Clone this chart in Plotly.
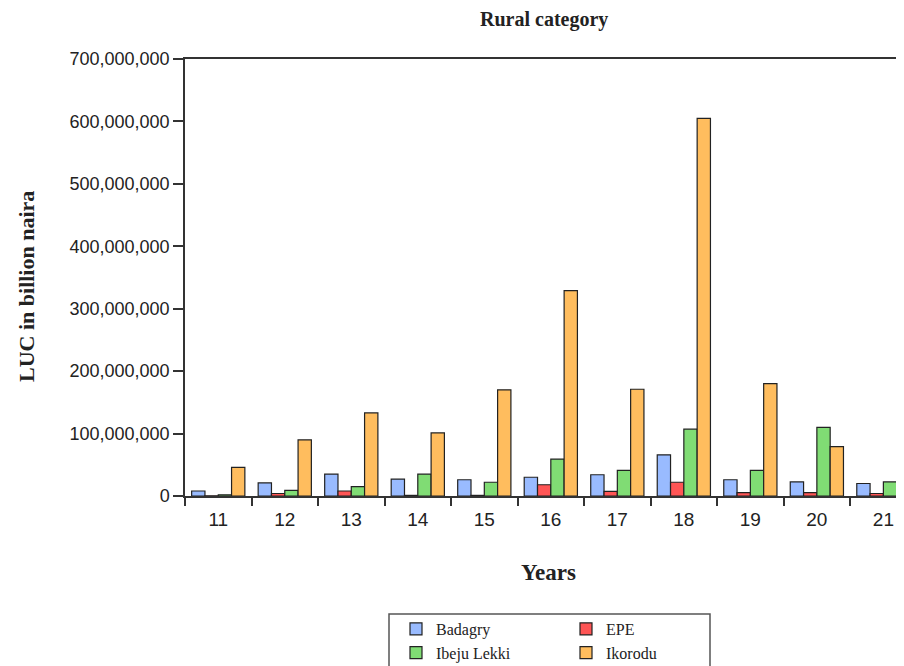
import plotly.graph_objects as go

years = ["11", "12", "13", "14", "15", "16", "17", "18", "19", "20", "21"]
badagry = [8e6, 21e6, 35e6, 27e6, 26e6, 30e6, 34e6, 66e6, 26e6, 22.5e6, 20e6]
epe = [0.3e6, 4e6, 8e6, 1e6, 1e6, 18e6, 7.5e6, 22e6, 5.5e6, 5.5e6, 4e6]
ibeju = [2e6, 9e6, 15e6, 35e6, 22e6, 59e6, 41e6, 107e6, 41e6, 110e6, 22.5e6]
ikorodu = [46e6, 90e6, 133e6, 101e6, 170e6, 329e6, 171e6, 605e6, 180e6, 79e6, 83e6]

series = [
    ("Badagry", badagry, "#99BBFF", "legend"),
    ("EPE", epe, "#FF5555", "legend2"),
    ("Ibeju Lekki", ibeju, "#80DC74", "legend"),
    ("Ikorodu", ikorodu, "#FFBD5E", "legend2"),
]

ytick_vals = [0, 100e6, 200e6, 300e6, 400e6, 500e6, 600e6, 700e6]
ytick_text = ["0", "100,000,000", "200,000,000", "300,000,000", "400,000,000",
              "500,000,000", "600,000,000", "700,000,000"]

fig = go.Figure()
for name, vals, color, lg in series:
    fig.add_trace(go.Bar(
        x=years, y=vals, name=name, legend=lg,
        marker=dict(color=color, line=dict(color="#222222", width=1.2)),
    ))

# page body has an 8px margin; figure coords = window coords - 8
OFF = 8
W, H = 896, 658
L, T = 185 - OFF, 59 - OFF
B = H - (496 - OFF)
R = 0
pw = W - L - R
ph = H - T - B

def px_x(p):
    return (p - OFF - L) / pw

def px_y(p):
    return (H - B - (p - OFF)) / ph

serif = "Liberation Serif, Times New Roman, serif"
sans = "Liberation Sans, Arial, sans-serif"

fig.update_layout(
    width=W, height=H,
    margin=dict(l=L, r=R, t=T, b=B, autoexpand=False),
    paper_bgcolor="white", plot_bgcolor="white",
    barmode="group", bargap=0.2, bargroupgap=0,
    showlegend=True,
    legend=dict(
        x=px_x(396), y=px_y(612), xanchor="left", yanchor="top",
        orientation="v", bgcolor="rgba(0,0,0,0)",
        font=dict(family=serif, size=16, color="#222222"),
        tracegroupgap=0, itemwidth=30,
    ),
    legend2=dict(
        x=px_x(566), y=px_y(612), xanchor="left", yanchor="top",
        orientation="v", bgcolor="rgba(0,0,0,0)",
        font=dict(family=serif, size=16, color="#222222"),
        tracegroupgap=0, itemwidth=30,
    ),
    xaxis=dict(
        type="category", range=[-0.5, 10.31],
        showline=True, linecolor="#333333", linewidth=1.5, mirror=True,
        ticks="outside", tickson="boundaries", ticklen=8, tickcolor="#333333",
        tickwidth=1.5, ticklabelstandoff=5,
        tickfont=dict(family=sans, size=19, color="#222222"),
        showgrid=False, zeroline=False,
    ),
    yaxis=dict(
        range=[0, 700e6],
        tickvals=ytick_vals, ticktext=ytick_text,
        showline=True, linecolor="#333333", linewidth=1.5,
        ticks="outside", ticklen=10, tickcolor="#333333", tickwidth=1.5,
        tickfont=dict(family=sans, size=18, color="#222222"),
        showgrid=False, zeroline=False,
    ),
    shapes=[dict(
        type="rect", xref="paper", yref="paper",
        x0=px_x(389), x1=px_x(710), y0=px_y(680), y1=px_y(614),
        line=dict(color="#555555", width=1.5), fillcolor="rgba(0,0,0,0)",
    )],
    annotations=[
        dict(text="<b>Rural category</b>", xref="paper", yref="paper",
             x=px_x(544), y=px_y(20), xanchor="center", yanchor="middle",
             showarrow=False, font=dict(family=serif, size=20, color="#222222")),
        dict(text="<b>Years</b>", xref="paper", yref="paper",
             x=px_x(548), y=px_y(572), xanchor="center", yanchor="middle",
             showarrow=False, font=dict(family=serif, size=23, color="#222222")),
        dict(text="<b>LUC in billion naira</b>", xref="paper", yref="paper",
             x=px_x(26), y=px_y(287), xanchor="center", yanchor="middle",
             textangle=-90,
             showarrow=False, font=dict(family=serif, size=22, color="#222222")),
    ],
)

fig.write_html("out.html")
